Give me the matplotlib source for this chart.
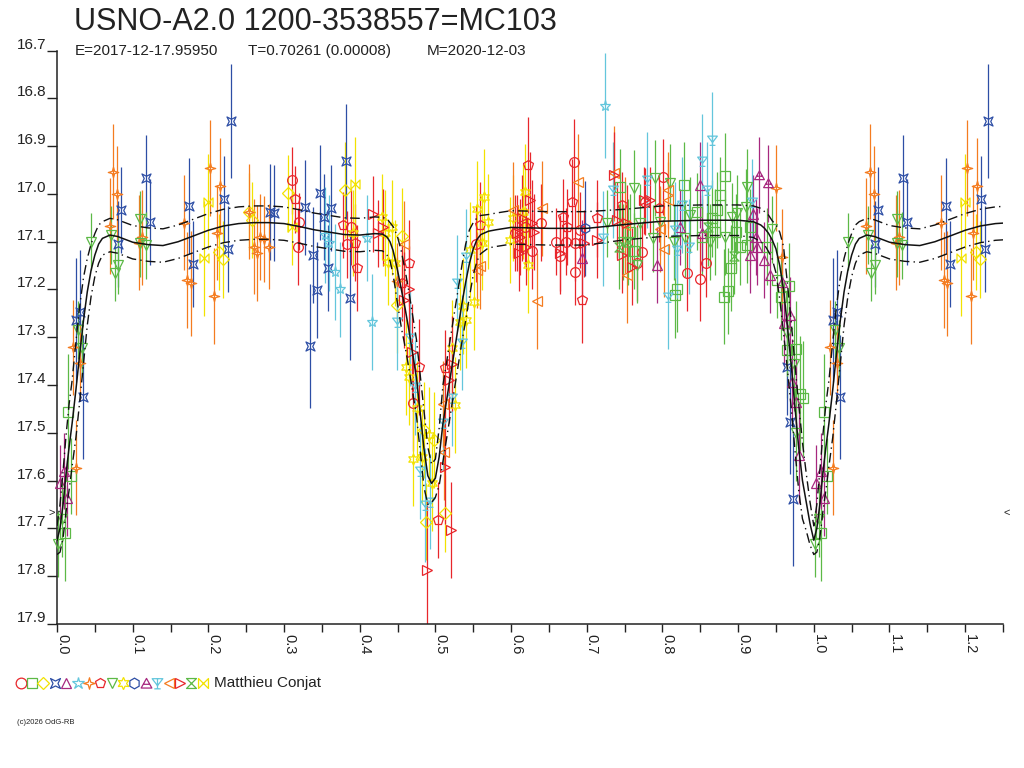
import numpy as np
import matplotlib
matplotlib.use("Agg")
import matplotlib.pyplot as plt
from matplotlib.path import Path
from matplotlib.lines import Line2D

plt.rcParams['font.family'] = ['Liberation Sans', 'DejaVu Sans']
TICK_FONT = ['Liberation Sans Narrow', 'Liberation Sans', 'DejaVu Sans']

# ---------------- data ----------------
title = "USNO-A2.0 1200-3538557=MC103"
sub_e = "E=2017-12-17.95950"
sub_t = "T=0.70261 (0.00008)"
sub_m = "M=2020-12-03"
observer = "Matthieu Conjat"
copyright_txt = "(c)2026 OdG-RB"
limit_mag = 17.668

x_major = [0.0, 0.1, 0.2, 0.3, 0.4, 0.5, 0.6, 0.7, 0.8, 0.9, 1.0, 1.1, 1.2]
x_labels = ["0.0", "0.1", "0.2", "0.3", "0.4", "0.5", "0.6", "0.7", "0.8", "0.9", "1.0", "1.1", "1.2"]
x_minor = [0.05, 0.15, 0.25, 0.35, 0.45, 0.55, 0.65, 0.75, 0.85, 0.95, 1.05, 1.15, 1.25]
y_ticks = [16.7, 16.8, 16.9, 17.0, 17.1, 17.2, 17.3, 17.4, 17.5, 17.6, 17.7, 17.8, 17.9]
y_labels = ["16.7", "16.8", "16.9", "17.0", "17.1", "17.2", "17.3", "17.4", "17.5", "17.6", "17.7", "17.8", "17.9"]

# mean light curve and its uncertainty band
curve_phase = [0.000, 0.004, 0.008, 0.012, 0.016, 0.020, 0.025, 0.030, 0.035, 0.040,
               0.045, 0.050, 0.055, 0.060, 0.070, 0.080, 0.090, 0.100, 0.120, 0.140,
               0.160, 0.180, 0.200, 0.220, 0.240, 0.260, 0.280, 0.300, 0.320, 0.340,
               0.360, 0.380, 0.400, 0.420, 0.430, 0.436, 0.440, 0.444, 0.447, 0.450,
               0.455, 0.460, 0.465, 0.470, 0.475, 0.480, 0.485, 0.490, 0.495, 0.500,
               0.505, 0.510, 0.515, 0.520, 0.525, 0.530, 0.535, 0.540, 0.545, 0.550,
               0.555, 0.560, 0.570, 0.580, 0.600, 0.650, 0.700, 0.750, 0.800, 0.850,
               0.900, 0.920, 0.930, 0.935, 0.940, 0.945, 0.950, 0.955, 0.960, 0.965,
               0.970, 0.975, 0.980, 0.985, 0.990, 0.995, 1.000]
curve_mag = [17.725, 17.700, 17.650, 17.585, 17.530, 17.480, 17.410, 17.335, 17.265, 17.205,
             17.160, 17.128, 17.105, 17.093, 17.086, 17.089, 17.095, 17.101, 17.106, 17.108,
             17.100, 17.088, 17.076, 17.067, 17.062, 17.060, 17.060, 17.062, 17.068, 17.075,
             17.080, 17.085, 17.086, 17.083, 17.084, 17.090, 17.100, 17.118, 17.138, 17.160,
             17.200, 17.240, 17.285, 17.335, 17.385, 17.460, 17.535, 17.590, 17.606, 17.595,
             17.550, 17.480, 17.430, 17.380, 17.330, 17.280, 17.230, 17.185, 17.145, 17.115,
             17.095, 17.085, 17.078, 17.075, 17.070, 17.072, 17.072, 17.064, 17.057, 17.055,
             17.055, 17.058, 17.065, 17.072, 17.082, 17.096, 17.115, 17.150, 17.200, 17.275,
             17.355, 17.445, 17.530, 17.600, 17.645, 17.690, 17.725]
curve_band = [0.030, 0.050, 0.070, 0.080, 0.090, 0.090, 0.100, 0.100, 0.090, 0.070,
              0.055, 0.045, 0.040, 0.035, 0.035, 0.035, 0.035, 0.035, 0.035, 0.035,
              0.035, 0.035, 0.035, 0.035, 0.035, 0.035, 0.035, 0.035, 0.035, 0.035,
              0.035, 0.035, 0.035, 0.035, 0.035, 0.038, 0.040, 0.050, 0.060, 0.070,
              0.080, 0.080, 0.080, 0.080, 0.080, 0.080, 0.080, 0.060, 0.040, 0.040,
              0.060, 0.080, 0.080, 0.080, 0.080, 0.080, 0.080, 0.080, 0.070, 0.055,
              0.045, 0.040, 0.035, 0.035, 0.035, 0.035, 0.035, 0.032, 0.032, 0.032,
              0.032, 0.033, 0.035, 0.035, 0.038, 0.040, 0.050, 0.070, 0.090, 0.090,
              0.090, 0.090, 0.090, 0.080, 0.060, 0.045, 0.030]

# observations, one set of arrays per symbol
red_circle_ph = [0.310, 0.320, 0.318, 0.383, 0.389, 0.471, 0.553, 0.605, 0.683, 0.691,
                 0.685, 0.773, 0.777, 0.801, 0.832, 0.850, 0.857, 0.767, 0.660, 0.640,
                 0.628, 0.618, 0.664, 0.672, 0.685]
red_circle_mag = [16.971, 17.058, 17.110, 17.105, 17.069, 17.438, 17.105, 17.082, 16.934, 17.075,
                  17.163, 17.121, 17.016, 16.964, 17.165, 17.177, 17.145, 17.145, 17.100, 17.060,
                  17.120, 17.070, 17.130, 17.100, 17.103]
red_circle_err = [0.07, 0.06, 0.08, 0.07, 0.08, 0.10, 0.08, 0.08, 0.09, 0.08,
                  0.07, 0.06, 0.07, 0.08, 0.08, 0.09, 0.07, 0.08, 0.07, 0.08,
                  0.08, 0.08, 0.08, 0.07, 0.08]

green_square_ph = [0.010, 0.018, 0.014, 0.744, 0.828, 0.883, 0.876, 0.872, 0.819, 0.817,
                   0.881, 0.887, 0.890, 0.912, 0.916, 0.938, 0.951, 0.967, 0.964, 0.977,
                   0.982, 0.986, 0.956, 0.852, 0.865, 0.870, 0.846, 0.757, 0.762, 0.897,
                   0.903]
green_square_mag = [17.710, 17.590, 17.456, 16.985, 16.981, 16.962, 17.002, 17.034, 17.198, 17.212,
                    17.215, 17.203, 17.154, 17.107, 17.069, 17.110, 17.180, 17.193, 17.327, 17.325,
                    17.418, 17.428, 17.215, 17.090, 17.051, 17.079, 17.037, 17.080, 17.120, 17.080,
                    17.110]
green_square_err = [0.10, 0.08, 0.12, 0.08, 0.09, 0.09, 0.08, 0.08, 0.09, 0.09,
                    0.10, 0.09, 0.09, 0.08, 0.08, 0.08, 0.08, 0.09, 0.10, 0.10,
                    0.12, 0.12, 0.09, 0.08, 0.08, 0.09, 0.08, 0.08, 0.08, 0.08,
                    0.08]

yellow_diamond_ph = [0.214, 0.219, 0.254, 0.258, 0.305, 0.380, 0.456, 0.449, 0.485, 0.498, 0.487, 0.513]
yellow_diamond_mag = [17.121, 17.137, 17.037, 17.055, 16.999, 16.992, 17.088, 17.233, 17.494, 17.515, 17.686, 17.669]
yellow_diamond_err = [0.08, 0.08, 0.08, 0.08, 0.08, 0.10, 0.10, 0.10, 0.10, 0.10, 0.08, 0.08]

blue_cross_ph = [0.025, 0.030, 0.0345, 0.0845, 0.081, 0.118, 0.1235, 0.175, 0.180, 0.221,
                 0.226, 0.230, 0.282, 0.287, 0.328, 0.338, 0.343, 0.334, 0.348, 0.353,
                 0.3625, 0.358, 0.3825, 0.387, 0.965, 0.969, 0.973]
blue_cross_mag = [17.264, 17.248, 17.425, 17.034, 17.105, 16.967, 17.058, 17.025, 17.147, 17.011,
                  17.116, 16.847, 17.038, 17.040, 17.028, 17.128, 17.201, 17.318, 16.997, 17.049,
                  17.030, 17.156, 16.932, 17.217, 17.363, 17.477, 17.639]
blue_cross_err = [0.13, 0.13, 0.13, 0.09, 0.09, 0.09, 0.09, 0.10, 0.09, 0.09,
                  0.09, 0.12, 0.10, 0.10, 0.10, 0.10, 0.10, 0.13, 0.10, 0.09,
                  0.09, 0.09, 0.12, 0.13, 0.10, 0.11, 0.14]

purple_tri_ph = [0.0035, 0.0095, 0.0135, 0.694, 0.793, 0.850, 0.852, 0.8235, 0.916, 0.925,
                 0.920, 0.934, 0.923, 0.9425, 0.958, 0.969, 0.961, 0.971, 0.976, 0.981]
purple_tri_mag = [17.606, 17.580, 17.637, 17.135, 17.149, 16.981, 17.082, 17.069, 17.128, 17.110,
                  17.041, 17.138, 17.090, 17.170, 17.184, 17.254, 17.271, 17.393, 17.435, 17.547]
purple_tri_err = [0.08, 0.08, 0.08, 0.08, 0.08, 0.09, 0.08, 0.08, 0.08, 0.08,
                  0.08, 0.08, 0.08, 0.08, 0.08, 0.08, 0.09, 0.09, 0.09, 0.10]

cyan_star_ph = [0.354, 0.360, 0.367, 0.374, 0.409, 0.416, 0.724]
cyan_star_mag = [17.086, 17.103, 17.163, 17.200, 17.093, 17.268, 16.815]
cyan_star_err = [0.10, 0.10, 0.10, 0.10, 0.09, 0.10, 0.11]

orange_star_ph = [0.025, 0.021, 0.0305, 0.074, 0.079, 0.0695, 0.108, 0.112, 0.168, 0.172,
                  0.1766, 0.202, 0.2077, 0.211, 0.2155, 0.254, 0.260, 0.264, 0.2687, 0.274,
                  0.280, 0.449, 0.950, 0.958]
orange_star_mag = [17.573, 17.321, 17.353, 16.953, 17.000, 17.067, 17.102, 17.091, 17.060, 17.180,
                   17.187, 16.946, 17.214, 17.081, 16.983, 17.037, 17.110, 17.124, 17.090, 17.095,
                   17.110, 17.182, 16.988, 17.131]
orange_star_err = [0.10, 0.10, 0.08, 0.10, 0.10, 0.10, 0.10, 0.10, 0.10, 0.10,
                   0.11, 0.10, 0.10, 0.10, 0.10, 0.10, 0.10, 0.10, 0.09, 0.09,
                   0.09, 0.08, 0.09, 0.10]

red_pent_ph = [0.315, 0.378, 0.3935, 0.397, 0.465, 0.456, 0.478, 0.504, 0.513, 0.559,
               0.623, 0.680, 0.694, 0.669, 0.674, 0.713, 0.795, 0.746]
red_pent_mag = [17.011, 17.065, 17.102, 17.156, 17.145, 17.187, 17.362, 17.683, 17.365, 17.065,
                16.939, 17.016, 17.222, 17.048, 17.069, 17.051, 17.030, 17.023]
red_pent_err = [0.07, 0.07, 0.08, 0.09, 0.09, 0.08, 0.10, 0.08, 0.08, 0.09,
                0.10, 0.09, 0.09, 0.08, 0.08, 0.08, 0.07, 0.07]

green_tri_ph = [0.001, 0.007, 0.028, 0.033, 0.045, 0.071, 0.076, 0.081, 0.110, 0.110,
                0.117, 0.727, 0.762, 0.766, 0.790, 0.810, 0.797, 0.788, 0.892, 0.883,
                0.863, 0.815, 0.830, 0.837, 0.912, 0.945, 0.974, 0.976, 0.965, 0.910,
                0.748, 0.770, 0.899]
green_tri_mag = [17.733, 17.680, 17.285, 17.323, 17.100, 17.086, 17.165, 17.149, 17.053, 17.103,
                 17.107, 17.061, 16.988, 17.149, 16.967, 16.976, 17.058, 17.093, 17.048, 17.090,
                 17.100, 17.100, 17.093, 17.044, 16.985, 17.074, 17.355, 17.501, 17.292, 17.027,
                 17.100, 17.060, 17.040]
green_tri_err = [0.07, 0.08, 0.06, 0.06, 0.06, 0.06, 0.06, 0.06, 0.06, 0.07,
                 0.07, 0.07, 0.08, 0.08, 0.08, 0.08, 0.07, 0.07, 0.07, 0.08,
                 0.08, 0.08, 0.08, 0.08, 0.08, 0.07, 0.10, 0.10, 0.09, 0.08,
                 0.08, 0.08, 0.08]

yellow_star_ph = [0.391, 0.429, 0.443, 0.434, 0.437, 0.447, 0.461, 0.465, 0.476, 0.491,
                  0.471, 0.482, 0.495, 0.526, 0.522, 0.533, 0.541, 0.537, 0.551, 0.546,
                  0.555, 0.564, 0.570, 0.561, 0.599, 0.603, 0.616, 0.619, 0.623]
yellow_star_mag = [17.082, 17.048, 17.070, 17.082, 17.142, 17.144, 17.362, 17.383, 17.449, 17.505,
                   17.554, 17.550, 17.606, 17.442, 17.323, 17.268, 17.264, 17.235, 17.226, 17.117,
                   17.032, 17.006, 17.058, 17.102, 17.096, 17.051, 17.037, 16.995, 17.149]
yellow_star_err = [0.09, 0.09, 0.10, 0.09, 0.09, 0.09, 0.10, 0.10, 0.10, 0.10,
                   0.10, 0.10, 0.10, 0.10, 0.10, 0.10, 0.10, 0.10, 0.10, 0.10,
                   0.10, 0.10, 0.10, 0.10, 0.09, 0.09, 0.10, 0.10, 0.10]

blue_hex_ph = [0.698]
blue_hex_mag = [17.072]
blue_hex_err = [0.10]

purple_rad_ph = [0.927, 0.940]
purple_rad_mag = [16.960, 16.978]
purple_rad_err = [0.08, 0.08]

cyan_b_ph = [0.449, 0.467, 0.473, 0.480, 0.486, 0.493, 0.510, 0.522, 0.535, 0.529,
             0.541, 0.722, 0.735, 0.7795, 0.808, 0.852, 0.865, 0.859, 0.826, 0.817,
             0.819, 0.8345, 0.918]
cyan_b_mag = [17.268, 17.302, 17.405, 17.580, 17.651, 17.644, 17.479, 17.428, 17.311, 17.186,
              17.131, 17.093, 16.992, 16.971, 17.215, 16.932, 16.887, 16.992, 17.023, 17.075,
              17.117, 17.110, 17.016]
cyan_b_err = [0.10, 0.10, 0.10, 0.10, 0.12, 0.10, 0.10, 0.10, 0.10, 0.10,
              0.10, 0.10, 0.10, 0.10, 0.11, 0.10, 0.10, 0.10, 0.10, 0.10,
              0.10, 0.10, 0.09]

orange_left_ph = [0.458, 0.511, 0.510, 0.559, 0.555, 0.603, 0.641, 0.634, 0.689, 0.753,
                  0.751, 0.808, 0.808, 0.797, 0.8015, 0.736]
orange_left_mag = [17.105, 17.540, 17.440, 17.151, 17.159, 17.034, 17.030, 17.224, 16.974, 17.170,
                   17.065, 17.013, 16.992, 17.074, 17.116, 16.957]
orange_left_err = [0.09, 0.10, 0.09, 0.09, 0.08, 0.10, 0.10, 0.10, 0.10, 0.10,
                   0.10, 0.08, 0.08, 0.09, 0.10, 0.10]

red_right_ph = [0.418, 0.4245, 0.431, 0.465, 0.458, 0.469, 0.520, 0.489, 0.513, 0.522,
                0.518, 0.625, 0.6275, 0.612, 0.610, 0.7354, 0.740, 0.746, 0.753, 0.608,
                0.665, 0.696, 0.713, 0.775, 0.784, 0.760, 0.615, 0.620, 0.630]
red_right_mag = [17.042, 17.082, 17.070, 17.198, 17.222, 17.330, 17.704, 17.788, 17.571, 17.355,
                 17.390, 17.013, 17.061, 17.090, 17.124, 16.960, 17.055, 17.128, 17.061, 17.082,
                 17.124, 17.103, 17.096, 17.013, 17.013, 17.152, 17.050, 17.110, 17.080]
red_right_err = [0.08, 0.07, 0.08, 0.09, 0.10, 0.10, 0.10, 0.15, 0.12, 0.10,
                 0.09, 0.10, 0.09, 0.08, 0.08, 0.09, 0.08, 0.08, 0.08, 0.08,
                 0.08, 0.07, 0.08, 0.07, 0.07, 0.08, 0.09, 0.08, 0.08]

green_hour_ph = [0.742, 0.755, 0.860, 0.895]
green_hour_mag = [17.110, 17.100, 17.070, 17.130]
green_hour_err = [0.09, 0.09, 0.08, 0.08]

yellow_bow_ph = [0.194, 0.1996, 0.310, 0.394]
yellow_bow_mag = [17.135, 17.016, 17.069, 16.980]
yellow_bow_err = [0.12, 0.10, 0.08, 0.10]

# ---------------- styles ----------------
RED = '#e8262b'
GREEN = '#5cb946'
YELLOW = '#f2e200'
BLUE = '#2d4ea5'
PURPLE = '#a7287f'
CYAN = '#63c6dc'
ORANGE = '#f47c20'


def closed(pts):
    verts = list(pts) + [pts[0]]
    codes = [Path.MOVETO] + [Path.LINETO] * (len(pts) - 1) + [Path.CLOSEPOLY]
    return Path(verts, codes)


m_cross = closed([(-1, -1), (0, -0.5), (1, -1), (0.5, 0), (1, 1), (0, 0.5), (-1, 1), (-0.5, 0)])
m_four = closed([(0, 1), (0.22, 0.22), (1, 0), (0.22, -0.22), (0, -1), (-0.22, -0.22), (-1, 0), (-0.22, 0.22)])
m_rad = Path([(-1, -0.85), (1, -0.85), (0, 0.95), (-1, -0.85), (-0.55, -0.15), (0.55, -0.15)],
             [Path.MOVETO, Path.LINETO, Path.LINETO, Path.CLOSEPOLY, Path.MOVETO, Path.LINETO])
m_cyan = Path([(-1, 0.9), (1, 0.9), (0, -0.4), (-1, 0.9), (0, 0.9), (0, -1), (-0.6, -1), (0.6, -1)],
              [Path.MOVETO, Path.LINETO, Path.LINETO, Path.CLOSEPOLY,
               Path.MOVETO, Path.LINETO, Path.MOVETO, Path.LINETO])
m_hour = closed([(-1, 1), (1, 1), (-1, -1), (1, -1)])
m_bow = closed([(-1, 1), (-1, -1), (1, 1), (1, -1)])

groups = [
    (red_circle_ph, red_circle_mag, red_circle_err, 'o', RED, 7.0),
    (green_square_ph, green_square_mag, green_square_err, 's', GREEN, 6.5),
    (yellow_diamond_ph, yellow_diamond_mag, yellow_diamond_err, 'D', YELLOW, 6.0),
    (blue_cross_ph, blue_cross_mag, blue_cross_err, m_cross, BLUE, 6.5),
    (purple_tri_ph, purple_tri_mag, purple_tri_err, '^', PURPLE, 7.0),
    (cyan_star_ph, cyan_star_mag, cyan_star_err, '*', CYAN, 8.0),
    (orange_star_ph, orange_star_mag, orange_star_err, m_four, ORANGE, 7.5),
    (red_pent_ph, red_pent_mag, red_pent_err, 'p', RED, 7.0),
    (green_tri_ph, green_tri_mag, green_tri_err, 'v', GREEN, 7.0),
    (yellow_star_ph, yellow_star_mag, yellow_star_err, (6, 1, 0), YELLOW, 8.0),
    (blue_hex_ph, blue_hex_mag, blue_hex_err, 'h', BLUE, 7.0),
    (purple_rad_ph, purple_rad_mag, purple_rad_err, m_rad, PURPLE, 7.0),
    (cyan_b_ph, cyan_b_mag, cyan_b_err, m_cyan, CYAN, 7.0),
    (orange_left_ph, orange_left_mag, orange_left_err, '<', ORANGE, 7.0),
    (red_right_ph, red_right_mag, red_right_err, '>', RED, 7.0),
    (green_hour_ph, green_hour_mag, green_hour_err, m_hour, GREEN, 6.5),
    (yellow_bow_ph, yellow_bow_mag, yellow_bow_err, m_bow, YELLOW, 6.5),
]

# ---------------- figure ----------------
W, H = 1024, 768
fig = plt.figure(figsize=(W / 100, H / 100), dpi=100)
ax_l, ax_r, ax_t, ax_b = 57, 1003, 50.7, 623.8
ax = fig.add_axes([ax_l / W, (H - ax_b) / H, (ax_r - ax_l) / W, (ax_b - ax_t) / H])
ax.set_xlim(0, 1.25)
ax.set_ylim(17.9, 16.7)
for s in ('top', 'right'):
    ax.spines[s].set_visible(False)
for s in ('left', 'bottom'):
    ax.spines[s].set_linewidth(1.1)
    ax.spines[s].set_color('#222222')

for ph, mag, err, mk, col, ms in groups:
    ph = np.asarray(ph)
    mag = np.asarray(mag)
    err = np.asarray(err)
    sel = ph <= 0.25
    allp = np.concatenate([ph, ph[sel] + 1.0])
    allm = np.concatenate([mag, mag[sel]])
    alle = np.concatenate([err, err[sel]])
    ax.errorbar(allp, allm, yerr=alle, fmt='none', ecolor=col, elinewidth=0.9,
                capsize=0, zorder=2)
    ax.plot(allp, allm, linestyle='none', marker=mk, markersize=ms, mfc='none',
            mec=col, mew=0.9, zorder=3, clip_on=False)

cp = np.asarray(curve_phase)
cm = np.asarray(curve_mag)
cb = np.asarray(curve_band)
sel = cp <= 0.26
cpx = np.concatenate([cp, cp[sel][1:] + 1.0])
cmx = np.concatenate([cm, cm[sel][1:]])
cbx = np.concatenate([cb, cb[sel][1:]])
ax.plot(cpx, cmx, color='#111111', lw=1.1, zorder=5)
dashdot = (0, (7, 3, 1, 3))
ax.plot(cpx, cmx - cbx, color='#111111', lw=1.0, ls=dashdot, zorder=5)
ax.plot(cpx, cmx + cbx, color='#111111', lw=1.0, ls=dashdot, zorder=5)

# ticks
ax.set_xticks(x_major)
ax.set_xticks(x_minor, minor=True)
ax.set_xticklabels([])
ax.set_yticks(y_ticks)
ax.set_yticklabels([])
ax.tick_params(axis='x', which='both', direction='out', length=5.8, width=1.0, color='#222222')
ax.tick_params(axis='y', which='major', direction='out', length=7.3, width=1.0, color='#222222')
ax.tick_params(axis='y', which='minor', left=False)

for v, lab in zip(y_ticks, y_labels):
    ax.annotate(lab, xy=(0, v), xycoords=('axes fraction', 'data'), xytext=(-11, 2),
                textcoords='offset pixels', ha='right', va='baseline', fontsize=11,
                family=TICK_FONT, color='#222222', annotation_clip=False)
for v, lab in zip(x_major, x_labels):
    ax.annotate(lab, xy=(v, 0), xycoords=('data', 'axes fraction'), xytext=(-2, -10),
                textcoords='offset pixels', ha='left', va='top', rotation=-90, fontsize=10.5,
                family=TICK_FONT, color='#222222', annotation_clip=False)

ax.annotate('>', xy=(0, limit_mag), xycoords=('axes fraction', 'data'), xytext=(-5, 0),
            textcoords='offset pixels', ha='center', va='center', fontsize=8, color='#222222',
            annotation_clip=False)
ax.annotate('<', xy=(1, limit_mag), xycoords=('axes fraction', 'data'), xytext=(4, 0),
            textcoords='offset pixels', ha='center', va='center', fontsize=8, color='#222222',
            annotation_clip=False)

# titles
fig.text(74 / W, 1 - 30 / H, title, fontsize=22, ha='left', va='baseline', color='#222222')
fig.text(75 / W, 1 - 55 / H, sub_e, fontsize=11, ha='left', va='baseline', color='#222222')
fig.text(248 / W, 1 - 55 / H, sub_t, fontsize=11, ha='left', va='baseline', color='#222222')
fig.text(427 / W, 1 - 55 / H, sub_m, fontsize=11, ha='left', va='baseline', color='#222222')

# legend row
leg_y = 1 - 683 / H
for i, (_, _, _, mk, col, ms) in enumerate(groups):
    lx = (20.7 + 11.37 * i) / W
    fig.add_artist(Line2D([lx], [leg_y], transform=fig.transFigure, linestyle='none',
                          marker=mk, markersize=ms * 1.1, mfc='none', mec=col, mew=0.9))
fig.text(214 / W, leg_y, observer, fontsize=11, ha='left', va='center', color='#222222')
fig.text(17 / W, 1 - 723 / H, copyright_txt, fontsize=5.5, ha='left', va='center', color='#222222')

fig.savefig('out.png', dpi=100)
